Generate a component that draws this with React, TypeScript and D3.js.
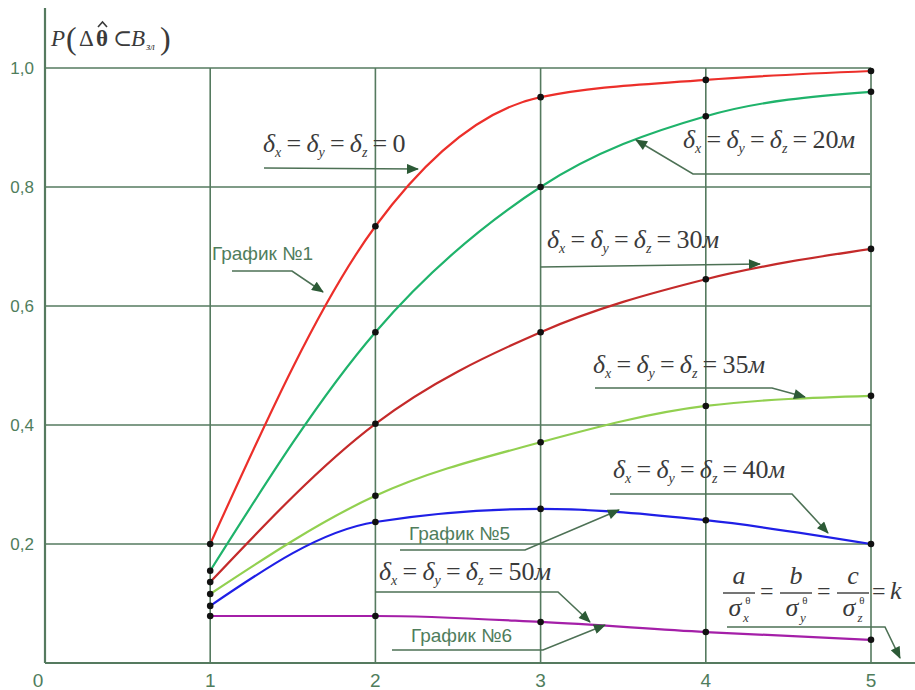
import React from "react";
import * as d3 from "d3";

// Ratio k = a/σx = b/σy = c/σz on the horizontal axis
const kValues = [1, 2, 3, 4, 5];
const xTicks = [0, 1, 2, 3, 4, 5];
const yTicks = [0.2, 0.4, 0.6, 0.8, 1.0];
const yTickLabels = ["0,2", "0,4", "0,6", "0,8", "1,0"];

// Probability of hitting the zone for each coordinate error δ (m)
const delta0 = [0.2, 0.734, 0.951, 0.98, 0.995];
const delta20 = [0.155, 0.556, 0.8, 0.919, 0.96];
const delta30 = [0.136, 0.402, 0.556, 0.645, 0.696];
const delta35 = [0.116, 0.281, 0.371, 0.432, 0.449];
const delta40 = [0.096, 0.237, 0.259, 0.24, 0.2];
const delta50 = [0.079, 0.079, 0.069, 0.052, 0.039];

const seriesList = [
  { values: delta0, color: "#ec2f2a" },
  { values: delta20, color: "#1fb36b" },
  { values: delta30, color: "#c42a2a" },
  { values: delta35, color: "#92d050" },
  { values: delta40, color: "#1f1fe6" },
  { values: delta50, color: "#a41fa8" },
];

const W = 915;
const H = 690;
const X0 = 45;
const X5 = 871;
const Y0 = 663;
const Y1 = 68;

const GRID = "#557a5f";
const LEAD = "#4d7155";
const LABEL = "#4f7d5c";
const INK = "#3a3a3a";
const SERIF = "'Liberation Serif', 'DejaVu Serif', serif";
const SANS = "'Liberation Sans', Arial, sans-serif";

function DeltaEq({ x, y, value, unit }: { x: number; y: number; value: string; unit?: string }) {
  const fs = 26;
  const sub = 14;
  const d = 5;
  const eq = "\u2009=\u2009";
  return (
    <text x={x} y={y} fontFamily={SERIF} fontSize={fs} fill={INK}>
      <tspan fontStyle="italic">δ</tspan>
      <tspan fontStyle="italic" fontSize={sub} dy={d}>x</tspan>
      <tspan dy={-d}>{eq}</tspan>
      <tspan fontStyle="italic">δ</tspan>
      <tspan fontStyle="italic" fontSize={sub} dy={d}>y</tspan>
      <tspan dy={-d}>{eq}</tspan>
      <tspan fontStyle="italic">δ</tspan>
      <tspan fontStyle="italic" fontSize={sub} dy={d}>z</tspan>
      <tspan dy={-d}>{eq}</tspan>
      <tspan>{value}</tspan>
      {unit ? <tspan fontStyle="italic">{unit}</tspan> : null}
    </text>
  );
}

function Fraction({ cx, num, axis }: { cx: number; num: string; axis: string }) {
  return (
    <g fontFamily={SERIF} fill={INK}>
      <text x={cx} y={584} fontSize={26} fontStyle="italic" textAnchor="middle">{num}</text>
      <line x1={cx - 16} x2={cx + 16} y1={593} y2={593} stroke={INK} strokeWidth={1.4} />
      <text x={cx - 4} y={616} fontSize={26} fontStyle="italic" textAnchor="middle">σ</text>
      <text x={cx + 9} y={604} fontSize={11} textAnchor="middle">θ</text>
      <text x={cx + 7} y={622} fontSize={13} fontStyle="italic" textAnchor="middle">{axis}</text>
    </g>
  );
}

function Leader({ pts }: { pts: [number, number][] }) {
  return (
    <polyline
      points={pts.map((p) => p.join(",")).join(" ")}
      fill="none"
      stroke={LEAD}
      strokeWidth={1.6}
      markerEnd="url(#arrow)"
    />
  );
}

export default function App() {
  const x = d3.scaleLinear().domain([0, 5]).range([X0, X5]);
  const y = d3.scaleLinear().domain([0, 1]).range([Y0, Y1]);
  const line = d3
    .line<number>()
    .x((_, i) => x(kValues[i]))
    .y((v) => y(v))
    .curve(d3.curveMonotoneX);

  return (
    <svg
      width={W}
      height={H}
      style={{ position: "fixed", left: 0, top: 0, background: "#fff" }}
    >
      <defs>
        <marker id="arrow" viewBox="0 0 12 10" refX="11" refY="5" markerWidth="13" markerHeight="10" markerUnits="userSpaceOnUse" orient="auto">
          <path d="M0,0 L12,5 L0,10 Z" fill="#2c5a36" />
        </marker>
      </defs>

      {/* grid */}
      {yTicks.map((t) => (
        <line key={"h" + t} x1={X0} x2={X5} y1={y(t)} y2={y(t)} stroke={GRID} strokeWidth={1.6} />
      ))}
      {kValues.map((k) => (
        <line key={"v" + k} x1={x(k)} x2={x(k)} y1={Y1} y2={Y0} stroke={GRID} strokeWidth={1.6} />
      ))}
      {/* axes */}
      <line x1={X0} x2={X0} y1={8} y2={Y0} stroke={GRID} strokeWidth={2.2} />
      <line x1={X0} x2={W} y1={Y0} y2={Y0} stroke={GRID} strokeWidth={2.2} />

      {/* tick labels */}
      {yTicks.map((t, i) => (
        <text key={"yl" + t} x={34} y={y(t) + 6} textAnchor="end" fontFamily={SANS} fontSize={17} fill={LABEL}>
          {yTickLabels[i]}
        </text>
      ))}
      {xTicks.map((t) => (
        <text key={"xl" + t} x={t === 0 ? 38 : x(t)} y={687} textAnchor="middle" fontFamily={SANS} fontSize={19} fill={LABEL}>
          {t}
        </text>
      ))}

      {/* axis title */}
      <g fontFamily={SERIF} fill={INK}>
        <text x={51} y={46} fontSize={23} fontStyle="italic">P</text>
        <text x={66} y={49} fontSize={32}>(</text>
        <text x={79} y={46} fontSize={23}>Δ</text>
        <text x={96} y={46} fontSize={23} fontWeight="bold">θ</text>
        <path d="M98,27 L102.5,22 L107,27" fill="none" stroke={INK} strokeWidth={1.6} />
        <text x={113} y={46} fontSize={23}>⊂</text>
        <text x={131} y={46} fontSize={23} fontStyle="italic">B</text>
        <text x={146} y={50} fontSize={11} fontStyle="italic">зл</text>
        <text x={160} y={49} fontSize={32}>)</text>
      </g>

      {/* curves */}
      {seriesList.map((s, i) => (
        <path key={"c" + i} d={line(s.values) || ""} fill="none" stroke={s.color} strokeWidth={2.2} />
      ))}
      {seriesList.map((s, i) =>
        s.values.map((v, j) => (
          <circle key={"p" + i + "-" + j} cx={x(kValues[j])} cy={y(v)} r={3.3} fill="#111" />
        ))
      )}

      {/* annotations */}
      <DeltaEq x={263} y={152} value="0" />
      <Leader pts={[[264, 168], [418, 169]]} />

      <DeltaEq x={683} y={148} value="20" unit="м" />
      <Leader pts={[[870, 174], [693, 174], [636, 140]]} />

      <DeltaEq x={547} y={248} value="30" unit="м" />
      <Leader pts={[[540, 267], [760, 264]]} />

      <DeltaEq x={593} y={373} value="35" unit="м" />
      <Leader pts={[[595, 388], [772, 388], [805, 397]]} />

      <DeltaEq x={613} y={478} value="40" unit="м" />
      <Leader pts={[[610, 494], [792, 494], [828, 533]]} />

      <DeltaEq x={379} y={580} value="50" unit="м" />
      <Leader pts={[[375, 592], [558, 592], [590, 622]]} />

      <text x={212} y={260} fontFamily={SANS} fontSize={19} fill={LABEL}>График №1</text>
      <Leader pts={[[232, 271], [292, 271], [323, 292]]} />

      <text x={409} y={540} fontFamily={SANS} fontSize={19} fill={LABEL}>График №5</text>
      <Leader pts={[[400, 550], [525, 550], [619, 510]]} />

      <text x={411} y={642} fontFamily={SANS} fontSize={19} fill={LABEL}>График №6</text>
      <Leader pts={[[392, 650], [543, 650], [605, 625]]} />

      {/* k relation */}
      <Fraction cx={739} num="a" axis="x" />
      <text x={760} y={599} fontFamily={SERIF} fontSize={24} fill={INK}>=</text>
      <Fraction cx={796} num="b" axis="y" />
      <text x={817} y={599} fontFamily={SERIF} fontSize={24} fill={INK}>=</text>
      <Fraction cx={853} num="c" axis="z" />
      <text x={872} y={599} fontFamily={SERIF} fontSize={24} fill={INK}>=</text>
      <text x={890} y={599} fontFamily={SERIF} fontSize={26} fontStyle="italic" fill={INK}>k</text>
      <Leader pts={[[727, 627], [885, 627], [900, 658]]} />
    </svg>
  );
}
